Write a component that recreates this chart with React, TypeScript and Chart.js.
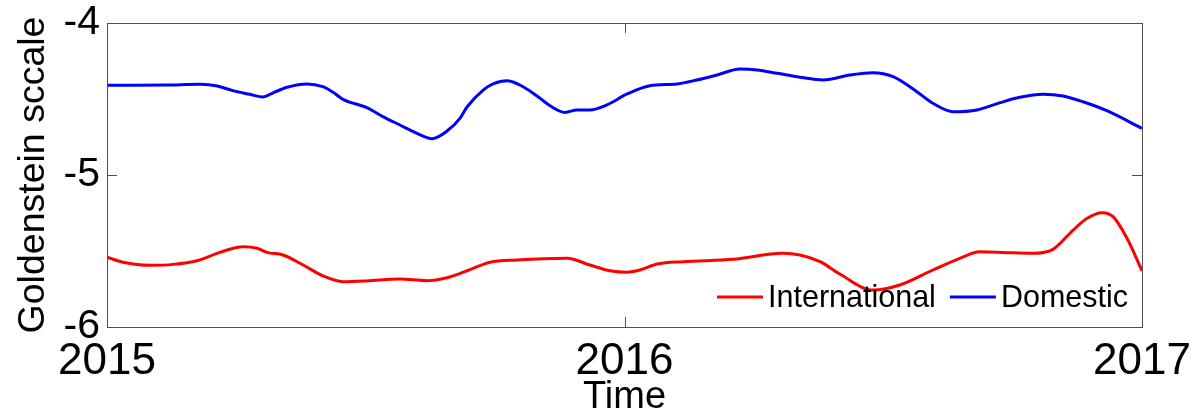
import React, { useEffect, useRef } from "react";
import { Chart, registerables } from "chart.js";

Chart.register(...registerables);

const FONT = "'Liberation Sans', Arial, sans-serif";

const xTickYears = [2015, 2016, 2017];
const yTickValues = [-6, -5, -4];

const seriesNames = ["International", "Domestic"];
const seriesColors = ["#ff0000", "#0000ff"];

const domesticTime = [
  2015.0, 2015.05, 2015.116, 2015.18, 2015.213, 2015.243, 2015.276, 2015.301, 2015.321, 2015.348,
  2015.386, 2015.417, 2015.437, 2015.456, 2015.502, 2015.533, 2015.566, 2015.599, 2015.628, 2015.657,
  2015.682, 2015.696, 2015.727, 2015.746, 2015.773, 2015.798, 2015.831, 2015.856, 2015.885, 2015.908,
  2015.933, 2015.966, 2016.005, 2016.049, 2016.101, 2016.14, 2016.179, 2016.223, 2016.256, 2016.295,
  2016.339, 2016.384, 2016.436, 2016.48, 2016.519, 2016.565, 2016.596, 2016.635, 2016.681, 2016.726,
  2016.764, 2016.809, 2016.847, 2016.886, 2016.932, 2017.0,
];
const domesticValues = [
  -4.41, -4.41, -4.408, -4.403, -4.414, -4.445, -4.469, -4.487, -4.459, -4.423,
  -4.401, -4.419, -4.456, -4.502, -4.557, -4.616, -4.671, -4.726, -4.761, -4.711,
  -4.627, -4.551, -4.441, -4.401, -4.38, -4.408, -4.48, -4.544, -4.588, -4.572,
  -4.572, -4.539, -4.467, -4.413, -4.401, -4.375, -4.342, -4.303, -4.309, -4.331,
  -4.357, -4.375, -4.342, -4.327, -4.353, -4.452, -4.528, -4.584, -4.572, -4.524,
  -4.489, -4.469, -4.48, -4.518, -4.577, -4.693,
];

const internationalTime = [
  2015.0, 2015.031, 2015.083, 2015.128, 2015.174, 2015.218, 2015.263, 2015.29, 2015.309, 2015.34,
  2015.379, 2015.417, 2015.456, 2015.502, 2015.566, 2015.618, 2015.657, 2015.696, 2015.74, 2015.792,
  2015.889, 2015.933, 2015.972, 2016.005, 2016.03, 2016.063, 2016.113, 2016.21, 2016.306, 2016.339,
  2016.378, 2016.416, 2016.48, 2016.532, 2016.596, 2016.648, 2016.687, 2016.739, 2016.789, 2016.828,
  2016.867, 2016.894, 2016.923, 2016.944, 2016.971, 2017.0,
];
const internationalValues = [
  -5.541, -5.574, -5.594, -5.588, -5.564, -5.509, -5.472, -5.482, -5.509, -5.526,
  -5.592, -5.663, -5.702, -5.697, -5.684, -5.695, -5.676, -5.63, -5.574, -5.559,
  -5.548, -5.592, -5.63, -5.64, -5.625, -5.586, -5.57, -5.555, -5.515, -5.526,
  -5.57, -5.651, -5.757, -5.724, -5.625, -5.548, -5.505, -5.511, -5.515, -5.489,
  -5.362, -5.285, -5.248, -5.274, -5.416, -5.63,
];

const frameAndLegend = {
  id: "frameAndLegend",
  afterDatasetsDraw(chart: any) {
    const { ctx, chartArea } = chart;
    const { left, right, top, bottom } = chartArea;
    const xs = chart.scales.x;
    const ys = chart.scales.y;
    ctx.save();
    ctx.strokeStyle = "#4d4d4d";
    ctx.lineWidth = 1;
    ctx.strokeRect(left + 0.5, top + 0.5, right - left, bottom - top);
    const tl = 10;
    ctx.beginPath();
    xTickYears.forEach((v) => {
      const px = Math.round(xs.getPixelForValue(v)) + 0.5;
      ctx.moveTo(px, bottom);
      ctx.lineTo(px, bottom - tl);
      ctx.moveTo(px, top);
      ctx.lineTo(px, top + tl);
    });
    yTickValues.forEach((v) => {
      const py = Math.round(ys.getPixelForValue(v)) + 0.5;
      ctx.moveTo(left, py);
      ctx.lineTo(left + tl, py);
      ctx.moveTo(right, py);
      ctx.lineTo(right - tl, py);
    });
    ctx.stroke();

    // legend
    ctx.font = `30.5px ${FONT}`;
    ctx.textBaseline = "middle";
    ctx.textAlign = "left";
    const lineLen = 46;
    const gap = 5;
    const between = 14;
    const widths = seriesNames.map((n) => ctx.measureText(n).width);
    let total = 0;
    widths.forEach((w, i) => {
      total += lineLen + gap + w + (i > 0 ? between : 0);
    });
    let x = right - 14 - total;
    const y = bottom - 30;
    seriesNames.forEach((n, i) => {
      if (i > 0) x += between;
      ctx.strokeStyle = seriesColors[i];
      ctx.lineWidth = 3;
      ctx.beginPath();
      ctx.moveTo(x, y);
      ctx.lineTo(x + lineLen, y);
      ctx.stroke();
      x += lineLen + gap;
      ctx.fillStyle = "#000";
      ctx.fillText(n, x, y + 2);
      x += widths[i];
    });
    ctx.restore();
  },
};

export default function App() {
  const ref = useRef<HTMLCanvasElement>(null);
  useEffect(() => {
    if (!ref.current) return;
    const chart = new Chart(ref.current, {
      type: "line",
      data: {
        datasets: [
          {
            label: seriesNames[0],
            data: internationalTime.map((t, i) => ({ x: t, y: internationalValues[i] })),
            borderColor: seriesColors[0],
            borderWidth: 3,
            pointRadius: 0,
            cubicInterpolationMode: "monotone",
            fill: false,
          },
          {
            label: seriesNames[1],
            data: domesticTime.map((t, i) => ({ x: t, y: domesticValues[i] })),
            borderColor: seriesColors[1],
            borderWidth: 3,
            pointRadius: 0,
            cubicInterpolationMode: "monotone",
            fill: false,
          },
        ],
      },
      options: {
        responsive: false,
        animation: false,
        layout: { padding: { left: 0, right: 52, top: 23, bottom: 0 } },
        plugins: { legend: { display: false }, tooltip: { enabled: false } },
        scales: {
          x: {
            type: "linear",
            min: 2015,
            max: 2017,
            grid: { display: false, drawTicks: false },
            border: { display: false },
            ticks: {
              stepSize: 1,
              color: "#000",
              padding: 8,
              maxRotation: 0,
              autoSkip: false,
              font: { family: FONT, size: 44 },
              callback: (v: any) => String(v),
            },
            title: {
              display: true,
              text: "Time",
              color: "#000",
              font: { family: FONT, size: 38, lineHeight: 1 },
              padding: { top: 0, bottom: 0 },
            },
            afterFit: (s: any) => {
              s.height = 90;
              s.paddingLeft = 0;
              s.paddingRight = 0;
            },
          },
          y: {
            type: "linear",
            min: -6,
            max: -4,
            grid: { display: false, drawTicks: false },
            border: { display: false },
            ticks: {
              stepSize: 1,
              color: "#000",
              padding: 7,
              font: { family: FONT, size: 41 },
              callback: (v: any) => String(v),
            },
            title: {
              display: true,
              text: "Goldenstein sccale",
              color: "#000",
              font: { family: FONT, size: 37.5, lineHeight: 1 },
              padding: { top: 15, bottom: 0 },
            },
            afterFit: (s: any) => {
              s.width = 107;
              s.paddingTop = 0;
              s.paddingBottom = 0;
            },
          },
        },
      },
      plugins: [frameAndLegend],
    });
    return () => chart.destroy();
  }, []);
  return (
    <div style={{ position: "fixed", left: 0, top: 0, width: 1194, height: 417, background: "#fff" }}>
      <canvas ref={ref} width={1194} height={417} />
    </div>
  );
}
